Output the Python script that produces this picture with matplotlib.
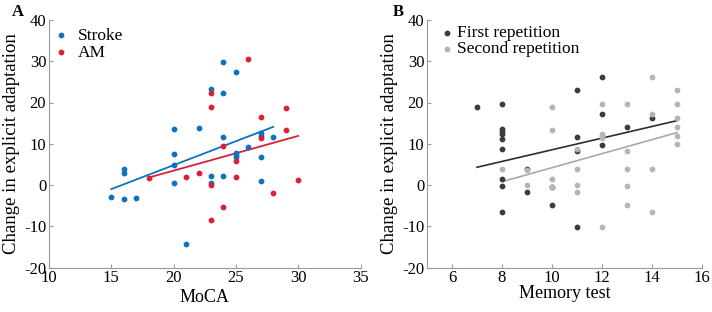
import numpy as np
import matplotlib
matplotlib.use("Agg")
import matplotlib.pyplot as plt

plt.rcParams['font.family'] = ['Liberation Serif', 'DejaVu Serif']
plt.rcParams['axes.unicode_minus'] = False

# panel A: MoCA vs change in explicit adaptation
stroke_x = [15, 16, 17, 16, 16, 20, 20, 20, 20, 22, 21, 23, 23, 23, 24, 24, 24, 24,
            25, 25, 25, 25, 26, 27, 27, 27, 27, 28]
stroke_y = [-2.8, -3.4, -3.2, 3.9, 2.8, 0.6, 4.8, 7.5, 13.5, 13.7, -14.2, 2.3, 0.4, 23.3,
            2.3, 11.7, 22.3, 29.7, 7.7, 7.2, 6.7, 27.5, 9.3, 12.5, 12.0, 6.9, 1.0, 11.6]
am_x = [18, 21, 22, 23, 23, 23, 23, 24, 24, 25, 25, 26, 27, 27, 28, 29, 29, 30]
am_y = [1.8, 1.9, 2.8, 0.1, -8.5, 19.0, 22.3, -5.3, 9.5, 5.9, 2.0, 30.5, 16.4, 11.4,
        -2.0, 13.3, 18.7, 1.2]
stroke_fit_x = [15, 28]
stroke_fit_y = [-1.0, 14.1]
am_fit_x = [18, 30]
am_fit_y = [1.8, 11.9]

# panel B: memory test
first_x = [7, 8, 8, 8, 8, 8, 8, 8, 8, 8, 9, 9, 10, 10, 11, 11, 11, 11, 12, 12, 12, 13, 14]
first_y = [18.8, 19.6, 13.5, 12.9, 12.4, 11.2, 8.7, 1.4, -0.2, -6.6, 3.9, -1.6, -0.4, -4.8,
           23.0, 11.7, 8.3, -10.1, 26.1, 17.2, 9.8, 14.0, 16.2]
second_x = [8, 9, 9, 10, 10, 10, 10, 11, 11, 11, 11, 12, 12, 12, 12, 12, 13, 13, 13, 13, 13,
            14, 14, 14, 14, 15, 15, 15, 15, 15, 15]
second_y = [3.9, 0.0, 3.6, 18.8, 13.3, 1.4, -0.4, 8.7, 3.9, 0.0, -1.6, 19.6, 12.4, 11.9, 11.5,
            -10.1, 19.6, 8.2, 3.9, -0.2, -4.8, 26.1, 17.2, 3.9, -6.6, 23.0, 19.6, 16.2, 14.0,
            11.9, 9.9]
first_fit_x = [7, 15]
first_fit_y = [4.3, 15.6]
second_fit_x = [8, 15]
second_fit_y = [0.8, 12.7]

BLUE = '#0f72bd'
RED = '#d8203a'
DARK = '#3c3c3c'
LIGHT = '#b5b5b5'

fig = plt.figure(figsize=(7.12, 3.12), dpi=100)
W, H = 712, 312
axA = fig.add_axes([49 / W, 1 - 267.5 / H, (360.5 - 49) / W, 247.5 / H])
axB = fig.add_axes([427 / W, 1 - 267.5 / H, (702 - 427) / W, 247.5 / H])


def style(ax):
    for s in ['top', 'right']:
        ax.spines[s].set_visible(False)
    for s in ['left', 'bottom']:
        ax.spines[s].set_color('#9a9a9a')
        ax.spines[s].set_linewidth(0.8)
    ax.tick_params(direction='in', length=3, width=0.8, color='#9a9a9a',
                   labelsize=12, pad=2)
    ax.set_ylim(-20, 40)
    ax.set_yticks(np.arange(-20, 41, 10))
    ax.set_ylabel('Change in explicit adaptation', fontsize=13.5, labelpad=3)


ms = 10
axA.plot(stroke_fit_x, stroke_fit_y, color=BLUE, lw=1.3)
axA.plot(am_fit_x, am_fit_y, color=RED, lw=1.3)
axA.scatter(stroke_x, stroke_y, s=ms, color=BLUE, label='Stroke', zorder=3)
axA.scatter(am_x, am_y, s=ms, color=RED, label='AM', zorder=3)
style(axA)
axA.set_xlim(10, 35)
axA.set_xticks(np.arange(10, 36, 5))
axA.set_xlabel('MoCA', fontsize=13, labelpad=2)
axA.legend(loc='upper left', frameon=False, fontsize=12.5, handletextpad=0.5,
           handlelength=1.0, labelspacing=0.05, borderaxespad=0.0, borderpad=0.0,
           bbox_to_anchor=(0.01, 0.97))

axB.plot(first_fit_x, first_fit_y, color='#2e2e2e', lw=1.2)
axB.plot(second_fit_x, second_fit_y, color='#a9a9a9', lw=1.2)
axB.scatter(first_x, first_y, s=ms, color=DARK, label='First repetition', zorder=3)
axB.scatter(second_x, second_y, s=ms, color=LIGHT, label='Second repetition', zorder=3)
style(axB)
axB.set_xlim(5, 16)
axB.set_xticks(np.arange(6, 17, 2))
axB.set_xlabel('Memory test', fontsize=13, labelpad=-1)
axB.legend(loc='upper left', frameon=False, fontsize=12.5, handletextpad=0.1,
           handlelength=1.0, labelspacing=0.0, borderaxespad=0.0, borderpad=0.0,
           bbox_to_anchor=(0.04, 0.98))

fig.text(12 / W, 1 - 12 / H, 'A', fontsize=12, fontweight='bold', va='center', ha='left')
fig.text(393 / W, 1 - 12 / H, 'B', fontsize=12, fontweight='bold', va='center', ha='left')

fig.savefig('out.png', dpi=100)
